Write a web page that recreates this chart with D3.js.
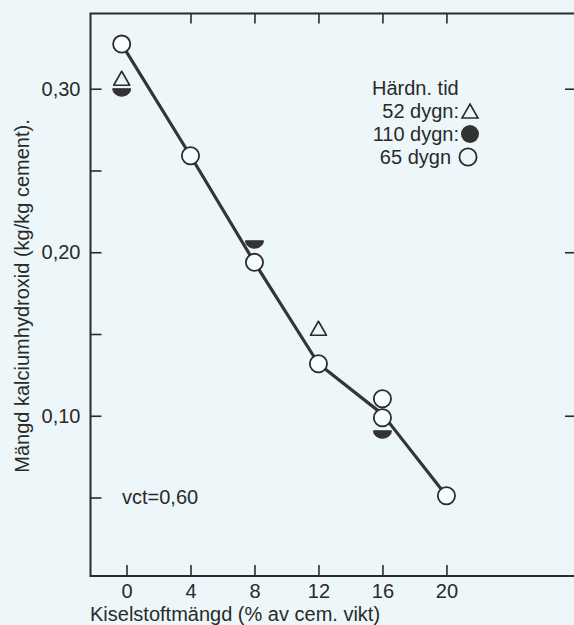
<!DOCTYPE html>
<html>
<head>
<meta charset="utf-8">
<script src="https://cdn.jsdelivr.net/npm/d3@7/dist/d3.min.js"></script>
<style>
  html, body { margin: 0; padding: 0; background: #edf7f9; }
  svg { display: block; }
  text { font-family: "Liberation Sans", Arial, Helvetica, sans-serif; fill: #2a2a2a; }
</style>
</head>
<body>
<script>
// ---- data ----
const xTicks = [0, 4, 8, 12, 16, 20];
const topTicks = [4, 8, 12, 16, 20];
const yMajor = [0.10, 0.20, 0.30];
const yMinor = [0.05, 0.15, 0.25];
const yLabels = ["0,10", "0,20", "0,30"];
// 65 dygn (open circles)
const c65x = [-0.3, 4, 8, 12, 16, 16, 20];
const c65y = [0.3273, 0.259, 0.1938, 0.1318, 0.1104, 0.0988, 0.0511];
// 52 dygn (triangles)
const t52x = [-0.3, 12];
const t52y = [0.3064, 0.1535];
// 110 dygn (half-filled)
const h110x = [-0.3, 8, 16];
const h110y = [0.300, 0.207, 0.0908];
// fitted line
const lineX = [-0.3, 4, 8, 12, 16, 20];
const lineY = [0.3273, 0.259, 0.1938, 0.1318, 0.101, 0.0511];
const legendTitle = "Härdn. tid";
const legendRows = ["52 dygn:", "110 dygn:", "65 dygn"];
const note = "vct=0,60";
const xTitle = "Kiselstoftmängd (% av cem. vikt)";
const yTitle = "Mängd kalciumhydroxid (kg/kg cement).";

// ---- drawing ----
const W = 574, H = 625;
const svg = d3.select("body").append("svg").attr("width", W).attr("height", H);
svg.append("rect").attr("width", W).attr("height", H).attr("fill", "#edf7f9");

const x = d3.scaleLinear().domain([-2.25, 28.1]).range([90.5, 576]);
const y = d3.scaleLinear().domain([0.002, 0.346]).range([576, 13.5]);
const ink = "#2b2b2b";
const fs = 20;

// frame
svg.append("rect")
  .attr("x", x(-2.25)).attr("y", y(0.346))
  .attr("width", x(28.1) - x(-2.25)).attr("height", y(0.002) - y(0.346))
  .attr("fill", "none").attr("stroke", ink).attr("stroke-width", 2);

// bottom axis (ticks inward)
const gB = svg.append("g").attr("transform", `translate(0,${y(0.002)})`)
  .call(d3.axisBottom(x).tickValues(xTicks).tickSize(-11).tickPadding(8)
        .tickFormat(d3.format("d")));
gB.select(".domain").remove();
gB.selectAll(".tick line").attr("stroke", ink).attr("stroke-width", 1.6);
gB.selectAll(".tick text").attr("font-size", fs).attr("fill", ink)
  .attr("font-family", '"Liberation Sans", Arial, sans-serif');

// top ticks (inward)
const gT = svg.append("g").attr("transform", `translate(0,${y(0.346)})`)
  .call(d3.axisTop(x).tickValues(topTicks).tickSize(-10).tickFormat(""));
gT.select(".domain").remove();
gT.selectAll(".tick line").attr("stroke", ink).attr("stroke-width", 1.6);

// left axis major + minor (inward)
const gL = svg.append("g").attr("transform", `translate(${x(-2.25)},0)`)
  .call(d3.axisLeft(y).tickValues(yMajor).tickSize(-11).tickPadding(10)
        .tickFormat((d, i) => yLabels[i]));
gL.select(".domain").remove();
gL.selectAll(".tick line").attr("stroke", ink).attr("stroke-width", 1.6);
gL.selectAll(".tick text").attr("font-size", fs).attr("fill", ink)
  .attr("font-family", '"Liberation Sans", Arial, sans-serif');
const gLm = svg.append("g").attr("transform", `translate(${x(-2.25)},0)`)
  .call(d3.axisLeft(y).tickValues(yMinor).tickSize(-11).tickFormat(""));
gLm.select(".domain").remove();
gLm.selectAll(".tick line").attr("stroke", ink).attr("stroke-width", 1.6);

// right axis major (inward)
const gR = svg.append("g").attr("transform", `translate(${x(28.1)},0)`)
  .call(d3.axisRight(y).tickValues(yMajor).tickSize(-11).tickFormat(""));
gR.select(".domain").remove();
gR.selectAll(".tick line").attr("stroke", ink).attr("stroke-width", 1.6);

// fitted line
const lineData = lineX.map((d, i) => [d, lineY[i]]);
svg.append("path")
  .datum(lineData)
  .attr("d", d3.line().x(d => x(d[0])).y(d => y(d[1])))
  .attr("fill", "none").attr("stroke", "#353535").attr("stroke-width", 3.2)
  .attr("stroke-linejoin", "round");

// half-filled (110 dygn)
const hr = 9, hry = 7.5;
svg.selectAll(".half").data(h110x.map((d, i) => [d, h110y[i]])).enter()
  .append("path")
  .attr("d", d => {
    const cx = x(d[0]), cy = y(d[1]);
    return `M${cx - hr},${cy} A${hr},${hry} 0 0 0 ${cx + hr},${cy} Z`;
  })
  .attr("fill", "#333").attr("stroke", "#333").attr("stroke-width", 1);

// triangles (52 dygn)
svg.selectAll(".tri").data(t52x.map((d, i) => [d, t52y[i]])).enter()
  .append("path")
  .attr("d", d => {
    const cx = x(d[0]), cy = y(d[1]);
    return `M${cx},${cy - 7} L${cx + 8},${cy + 7} L${cx - 8},${cy + 7} Z`;
  })
  .attr("fill", "none").attr("stroke", ink).attr("stroke-width", 1.6)
  .attr("stroke-linejoin", "round");

// open circles (65 dygn)
svg.selectAll(".c65").data(c65x.map((d, i) => [d, c65y[i]])).enter()
  .append("circle")
  .attr("cx", d => x(d[0])).attr("cy", d => y(d[1])).attr("r", 8.6)
  .attr("fill", "#f7fcfd").attr("stroke", ink).attr("stroke-width", 1.8);

// legend
const lgX = 459, lgSym = 470;
svg.append("text").attr("x", 372).attr("y", 95).attr("font-size", fs).text(legendTitle);
const rowY = [118, 141, 164];
legendRows.forEach((t, i) => {
  svg.append("text").attr("x", i === 2 ? 451 : lgX).attr("y", rowY[i])
    .attr("text-anchor", "end").attr("font-size", fs).text(t);
});
const sy0 = rowY[0] - 7;
svg.append("path")
  .attr("d", `M${lgSym},${sy0 - 7} L${lgSym + 8},${sy0 + 7} L${lgSym - 8},${sy0 + 7} Z`)
  .attr("fill", "none").attr("stroke", ink).attr("stroke-width", 1.6);
svg.append("circle").attr("cx", lgSym).attr("cy", rowY[1] - 7).attr("r", 9).attr("fill", "#333");
svg.append("circle").attr("cx", lgSym - 2).attr("cy", rowY[2] - 7).attr("r", 8.6)
  .attr("fill", "none").attr("stroke", ink).attr("stroke-width", 1.8);

// note
svg.append("text").attr("x", 122).attr("y", 504).attr("font-size", fs).text(note);

// axis titles
svg.append("text").attr("x", 90).attr("y", 621).attr("font-size", fs).text(xTitle);
svg.append("text").attr("transform", "translate(29,296) rotate(-90)")
  .attr("text-anchor", "middle").attr("font-size", fs).text(yTitle);
</script>
</body>
</html>
